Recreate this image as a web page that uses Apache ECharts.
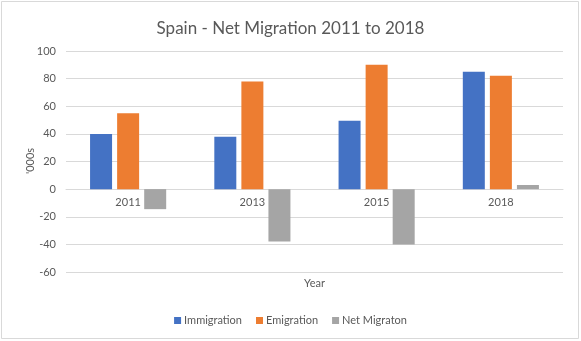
<!DOCTYPE html>
<html>
<head>
<meta charset="utf-8">
<script src="https://cdn.jsdelivr.net/npm/echarts@6/dist/echarts.min.js"></script>
<style>
  html, body { margin: 0; padding: 0; background: #fff; }
  #chart { width: 581px; height: 341px; }
</style>
</head>
<body>
<div id="chart"></div>
<script>
// Spain migration figures, thousands of people
const years = ['2011', '2013', '2015', '2018'];
const immigration = [40, 38, 49.5, 85];
const emigration = [55, 78, 90, 82];
const netMigration = [-14.5, -38, -40, 3];
const yTicks = { min: -60, max: 100, interval: 20 };

const FONT = 'Lato';
const TEXT = '#595959';
const GRID = '#d9d9d9';

const chart = echarts.init(document.getElementById('chart'));

function barSeries(name, data, color) {
  return {
    name: name,
    type: 'bar',
    data: data,
    barWidth: 22,
    barGap: '23%',
    itemStyle: { color: color },
    emphasis: { disabled: true }
  };
}

chart.setOption({
  animation: false,
  backgroundColor: '#fff',
  textStyle: { fontFamily: FONT, color: TEXT },
  title: {
    text: 'Spain - Net Migration 2011 to 2018',
    left: 'center',
    top: 15,
    textStyle: { fontFamily: FONT, fontSize: 17, fontWeight: 'normal', color: TEXT }
  },
  graphic: [{
    type: 'rect',
    shape: { x: 1.5, y: 1.5, width: 577, height: 337 },
    style: { fill: 'none', stroke: GRID, lineWidth: 1 },
    silent: true
  }, {
    // vertical axis title
    type: 'text',
    x: 30,
    y: 161,
    rotation: Math.PI / 2,
    style: {
      text: "'000s",
      fill: TEXT,
      font: '11px ' + FONT,
      align: 'center',
      verticalAlign: 'middle'
    },
    silent: true
  }],
  legend: {
    left: 'center',
    top: 310,
    itemWidth: 7,
    itemHeight: 7,
    itemGap: 14,
    icon: 'rect',
    textStyle: { fontFamily: FONT, fontSize: 11, color: TEXT, padding: [0, 0, 0, -2] },
    data: ['Immigration', 'Emigration', 'Net Migraton']
  },
  grid: { left: 66, right: 18, top: 51, bottom: 69, containLabel: false, outerBoundsMode: 'none' },
  xAxis: {
    type: 'category',
    data: years,
    name: 'Year',
    nameLocation: 'middle',
    nameGap: 89,
    nameTextStyle: { fontFamily: FONT, fontSize: 11, color: TEXT },
    axisLine: { onZero: false, lineStyle: { color: GRID } },
    axisTick: { show: false },
    axisLabel: { fontFamily: FONT, fontSize: 11, color: TEXT, margin: 8 }
  },
  yAxis: {
    type: 'value',
    min: yTicks.min,
    max: yTicks.max,
    interval: yTicks.interval,
    axisLine: { show: false },
    axisTick: { show: false },
    splitLine: { lineStyle: { color: GRID } },
    axisLabel: { fontFamily: FONT, fontSize: 11, color: TEXT, margin: 10 }
  },
  series: [
    barSeries('Immigration', immigration, '#4472c4'),
    barSeries('Emigration', emigration, '#ed7d31'),
    barSeries('Net Migraton', netMigration, '#a5a5a5')
  ]
});

// Lift the category axis (line, labels and name) up to the zero line.
const zeroY = chart.convertToPixel({ yAxisIndex: 0 }, 0);
const bottomY = chart.convertToPixel({ yAxisIndex: 0 }, yTicks.min);
chart.setOption({ xAxis: { offset: -(bottomY - zeroY) } });
</script>
</body>
</html>
